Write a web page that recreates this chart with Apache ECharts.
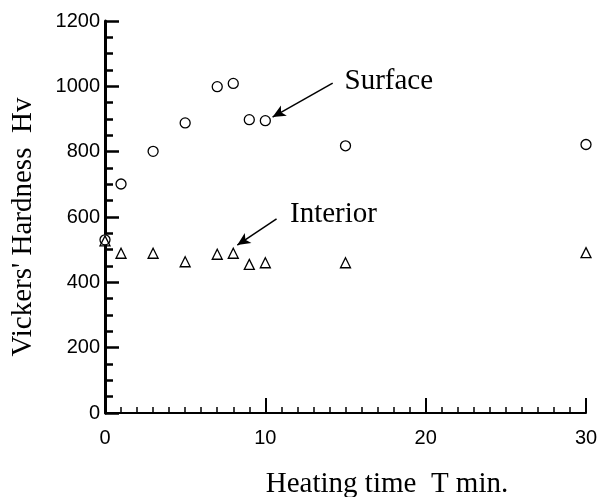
<!DOCTYPE html>
<html>
<head>
<meta charset="utf-8">
<script src="https://cdn.jsdelivr.net/npm/echarts@6/dist/echarts.min.js"></script>
<style>
html,body{margin:0;padding:0;background:#fff;}
#c{width:601px;height:497px;}
</style>
</head>
<body>
<div id="c"></div>
<script>
// Heating time (min)
var times = [0, 1, 3, 5, 7, 8, 9, 10, 15, 30];
// Vickers hardness Hv
var surface = [530, 701, 801, 888, 999, 1009, 898, 895, 818, 822];
var interior = [527, 489, 489, 463, 486, 489, 455, 460, 460, 491];
var xTicks = [0, 10, 20, 30];
var yTicks = [0, 200, 400, 600, 800, 1000, 1200];

// annotation anchors in data space
var surfaceLabel = {text: 'Surface', at: [17.7, 1016]};
var surfaceArrow = [[14.2, 1010], [10.45, 906]];
var interiorLabel = {text: 'Interior', at: [14.25, 608]};
var interiorArrow = [[10.7, 594], [8.25, 514]];

function pairs(xs, ys) {
  return xs.map(function (x, i) { return [x, ys[i]]; });
}

var serif = '"Liberation Serif", "DejaVu Serif", serif';
var sans = '"Liberation Sans", Arial, sans-serif';

var chart = echarts.init(document.getElementById('c'), null, {renderer: 'canvas'});

function annot(label, arrow) {
  return {
    markLine: {
      silent: true,
      symbol: ['none', 'arrow'],
      symbolSize: [9, 13],
      lineStyle: {color: '#000', width: 1.5, type: 'solid'},
      label: {show: false},
      emphasis: {disabled: true},
      animation: false,
      data: [[{coord: arrow[0]}, {coord: arrow[1]}]]
    },
    markPoint: {
      silent: true,
      symbol: 'circle',
      symbolSize: 0,
      animation: false,
      label: {
        show: true,
        position: 'inside',
        formatter: label.text,
        color: '#000',
        fontFamily: serif,
        fontSize: 29
      },
      data: [{coord: label.at}]
    }
  };
}

var sLayer = annot(surfaceLabel, surfaceArrow);
var iLayer = annot(interiorLabel, interiorArrow);

chart.setOption({
  animation: false,
  backgroundColor: '#fff',
  grid: {left: 105, right: 15, top: 21, bottom: 84, containLabel: false, outerBoundsMode: 'none'},
  xAxis: {
    type: 'value',
    min: xTicks[0],
    max: xTicks[xTicks.length - 1],
    interval: xTicks[1] - xTicks[0],
    name: 'Heating time  T min.',
    nameLocation: 'middle',
    nameGap: 57,
    nameTextStyle: {color: '#000', fontFamily: serif, fontSize: 29, padding: [0, 0, 0, 83]},
    axisLine: {show: true, onZero: false, lineStyle: {color: '#000', width: 2}},
    axisTick: {show: true, inside: true, length: 15, lineStyle: {color: '#000', width: 2}},
    minorTick: {show: true, splitNumber: 10, length: 6, lineStyle: {color: '#000', width: 1.5}},
    splitLine: {show: false},
    minorSplitLine: {show: false},
    axisLabel: {color: '#000', fontFamily: sans, fontSize: 20, margin: 15,
      formatter: function (v) { return String(v); }}
  },
  yAxis: {
    type: 'value',
    min: yTicks[0],
    max: yTicks[yTicks.length - 1],
    interval: yTicks[1] - yTicks[0],
    name: "Vickers' Hardness  Hv",
    nameLocation: 'middle',
    nameGap: 67,
    nameRotate: 90,
    nameTextStyle: {color: '#000', fontFamily: serif, fontSize: 29, padding: [0, 20, 0, 0]},
    axisLine: {show: true, onZero: false, lineStyle: {color: '#000', width: 3}},
    axisTick: {show: true, inside: true, length: 14, lineStyle: {color: '#000', width: 2.5}},
    minorTick: {show: true, splitNumber: 4, length: 8, lineStyle: {color: '#000', width: 2.5}},
    splitLine: {show: false},
    minorSplitLine: {show: false},
    axisLabel: {color: '#000', fontFamily: sans, fontSize: 20, margin: 5,
      formatter: function (v) { return String(v); }}
  },
  series: [
    Object.assign({
      name: 'Surface',
      type: 'scatter',
      symbol: 'circle',
      symbolSize: 10,
      itemStyle: {color: '#fff', borderColor: '#000', borderWidth: 1.3, opacity: 1},
      data: pairs(times, surface),
      z: 3
    }, sLayer),
    Object.assign({
      name: 'Interior',
      type: 'scatter',
      symbol: 'triangle',
      symbolSize: [10, 10],
      itemStyle: {color: 'rgba(255,255,255,0)', borderColor: '#000', borderWidth: 1.3, opacity: 1},
      data: pairs(times, interior),
      z: 4
    }, iLayer)
  ]
});
</script>
</body>
</html>
